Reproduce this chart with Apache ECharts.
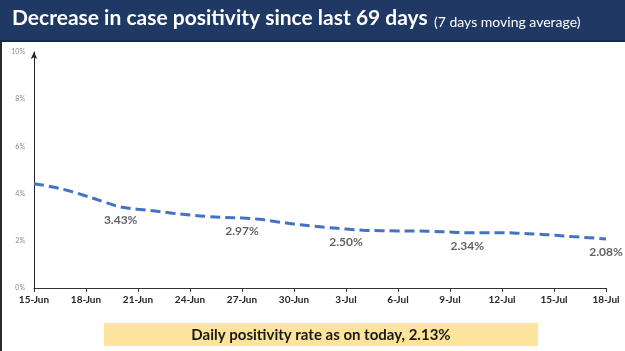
<!DOCTYPE html>
<html><head><meta charset="utf-8">
<script src="https://cdn.jsdelivr.net/npm/echarts@6/dist/echarts.min.js"></script>
<style>html,body{margin:0;padding:0;background:#fff;}#c{width:625px;height:351px;}</style>
</head><body><div id="c"></div>
<script>
const categories = ['15-Jun','16-Jun','17-Jun','18-Jun','19-Jun','20-Jun','21-Jun','22-Jun','23-Jun','24-Jun','25-Jun','26-Jun','27-Jun','28-Jun','29-Jun','30-Jun','1-Jul','2-Jul','3-Jul','4-Jul','5-Jul','6-Jul','7-Jul','8-Jul','9-Jul','10-Jul','11-Jul','12-Jul','13-Jul','14-Jul','15-Jul','16-Jul','17-Jul','18-Jul'];
const positivity = [4.42,4.29,4.12,3.90,3.66,3.43,3.34,3.26,3.17,3.09,3.03,2.99,2.97,2.91,2.81,2.71,2.63,2.56,2.50,2.45,2.43,2.42,2.42,2.40,2.37,2.34,2.34,2.34,2.32,2.28,2.24,2.18,2.13,2.08];
const labelledPoints = ['20-Jun','27-Jun','3-Jul','10-Jul','18-Jul'];
const yTicks = [0,2,4,6,8,10];
const titleText = 'Decrease in case positivity since last 69 days';
const subtitleText = '(7 days moving average)';
const boxText = 'Daily positivity rate as on today, 2.13%';

const chart = echarts.init(document.getElementById('c'), null, {renderer:'canvas'});
const labelData = categories.map((c,i)=> labelledPoints.includes(c) ? positivity[i] : '-');
chart.setOption({
  animation:false,
  backgroundColor:'#ffffff',
  graphic:[
    {type:'rect', shape:{x:0,y:0,width:625,height:41}, style:{fill:'#1F3864'}, z:10},
    {type:'rect', shape:{x:0,y:40,width:625,height:2}, style:{fill:'#16294a'}, z:10},
    {type:'rect', shape:{x:0,y:41,width:2,height:310}, style:{fill:'#2b2b2b'}, z:10},
    {type:'text', left:12, top:8, style:{text:titleText, fill:'#ffffff', font:'bold 21px Lato'}, z:11},
    {type:'text', left:434, top:15, style:{text:subtitleText, fill:'#ffffff', font:'14px Lato'}, z:11},
    {type:'rect', shape:{x:104,y:323,width:434,height:23}, style:{fill:'#FCE49C'}, z:10},
    {type:'text', x:321, y:335, style:{text:boxText, fill:'#1a1a1a', font:'bold 15px Lato', align:'center', verticalAlign:'middle'}, z:11}
  ],
  grid:{left:34, right:19, top:52, bottom:63, containLabel:false},
  xAxis:{
    type:'category', data:categories, boundaryGap:false,
    axisLine:{lineStyle:{color:'#333', width:1}},
    axisTick:{show:true, interval:2, length:4, lineStyle:{color:'#333'}},
    axisLabel:{interval:2, color:'#262626', fontWeight:'bold', fontSize:10, fontFamily:'Lato', margin:7}
  },
  yAxis:{
    type:'value', min:0, max:10, interval:2,
    axisLine:{show:true, symbol:['none','arrow'], symbolSize:[5,7], lineStyle:{color:'#222', width:1}},
    axisTick:{show:false},
    splitLine:{show:false},
    axisLabel:{formatter:v=>yTicks.includes(v)?v+'%':'', color:'#8a8a8a', fontSize:7, fontFamily:'Lato', margin:9}
  },
  series:[{
    type:'line', data:positivity, smooth:0.4, symbol:'none',
    lineStyle:{color:'#4472C4', width:3, type:[10,5]}
  },{
    type:'scatter', data:labelData, symbolSize:1,
    itemStyle:{color:'rgba(0,0,0,0)'},
    label:{show:true, position:'bottom', distance:7, formatter:p=>Number(p.value).toFixed(2)+'%', color:'#3a3a3a', fontWeight:'bold', fontSize:12, fontFamily:'Lato'}
  }]
});
</script></body></html>
